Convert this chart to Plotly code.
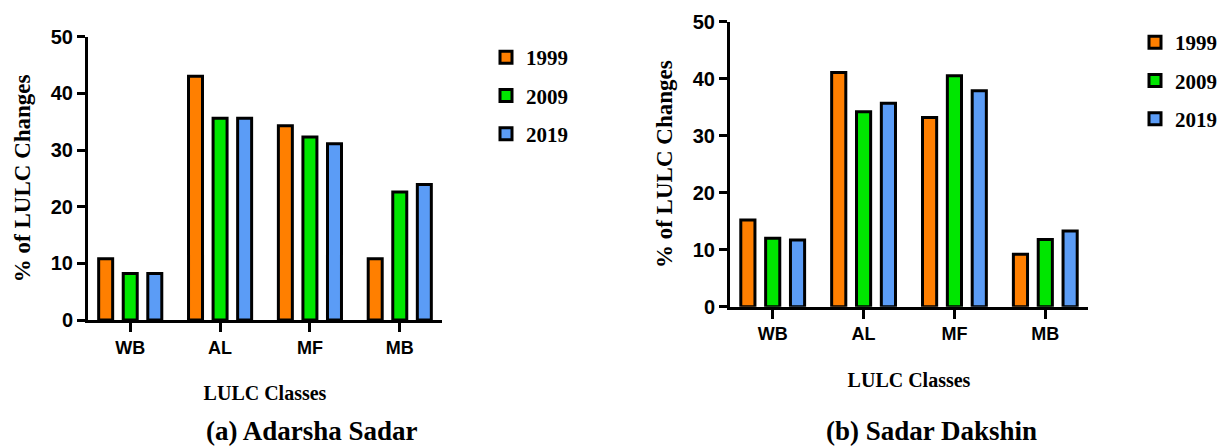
import plotly.graph_objects as go

categories = ["WB", "AL", "MF", "MB"]
years = ["1999", "2009", "2019"]
colors = ["#FF7F00", "#00E600", "#5B9CF6"]

adarsha_1999 = [10.8, 43.0, 34.3, 10.8]
adarsha_2009 = [8.2, 35.6, 32.3, 22.6]
adarsha_2019 = [8.2, 35.6, 31.1, 23.9]

dakshin_1999 = [15.2, 41.1, 33.2, 9.2]
dakshin_2009 = [12.0, 34.2, 40.5, 11.8]
dakshin_2019 = [11.7, 35.7, 37.9, 13.3]

y_ticks = [0, 10, 20, 30, 40, 50]

# page body has an 8px margin; size the figure to fill the remaining window
OFF = 8
W, H = 1226 - OFF, 446 - OFF
def fx(px):
    return (px - OFF) / W
def fy(py):
    return 1 - (py - OFF) / H

fig = go.Figure()

left_series = [adarsha_1999, adarsha_2009, adarsha_2019]
right_series = [dakshin_1999, dakshin_2009, dakshin_2019]

for i, (yr, vals) in enumerate(zip(years, left_series)):
    fig.add_trace(go.Bar(
        x=categories, y=vals, name=yr, xaxis="x", yaxis="y",
        marker=dict(color=colors[i], line=dict(color="black", width=3)),
        legend="legend", legendgroup="l" + yr,
    ))
for i, (yr, vals) in enumerate(zip(years, right_series)):
    fig.add_trace(go.Bar(
        x=categories, y=vals, name=yr, xaxis="x2", yaxis="y2",
        marker=dict(color=colors[i], line=dict(color="black", width=3)),
        legend="legend2", legendgroup="r" + yr,
    ))

tickfont = dict(family="Arial, Liberation Sans", size=20, color="black", weight="bold")
catfont = dict(family="Arial, Liberation Sans", size=18, color="black", weight="bold")
xtitlefont = dict(family="Times New Roman, Liberation Serif", size=20, color="black", weight="bold")
ytitlefont = dict(family="Times New Roman, Liberation Serif", size=23, color="black", weight="bold")
legfont = dict(family="Times New Roman, Liberation Serif", size=21, color="black", weight="bold")
capfont = dict(family="Times New Roman, Liberation Serif", size=27, color="black", weight="bold")

common_x = dict(
    type="category", range=[-0.47, 3.47], showline=True, linecolor="black", linewidth=3,
    ticks="outside", ticklen=9, tickwidth=3, tickcolor="black", tickfont=catfont,
    showgrid=False, zeroline=False, fixedrange=True, automargin=False,
)
common_y = dict(
    range=[0, 50], tickvals=y_ticks, showline=True, linecolor="black", linewidth=3,
    ticks="outside", ticklen=8, tickwidth=3, tickcolor="black", tickfont=tickfont,
    showgrid=False, zeroline=False, fixedrange=True, automargin=False,
)

fig.update_layout(
    width=W, height=H,
    margin=dict(l=0, r=0, t=0, b=0, autoexpand=False),
    paper_bgcolor="white", plot_bgcolor="white",
    barmode="group", bargap=0.18, bargroupgap=0.43,
    xaxis=dict(domain=[fx(88), fx(442)], anchor="y",
               title=dict(text="LULC Classes", font=xtitlefont, standoff=30), **common_x),
    yaxis=dict(domain=[fy(320), fy(36.7)], anchor="x",
               title=dict(text="% of LULC Changes", font=ytitlefont, standoff=14), **common_y),
    xaxis2=dict(domain=[fx(730), fx(1088)], anchor="y2",
                title=dict(text="LULC Classes", font=xtitlefont, standoff=30), **common_x),
    yaxis2=dict(domain=[fy(306.7), fy(21.7)], anchor="x2",
                title=dict(text="% of LULC Changes", font=ytitlefont, standoff=14), **common_y),
    legend=dict(x=fx(486), y=fy(37), xanchor="left", yanchor="top",
                font=legfont, tracegroupgap=8, bgcolor="rgba(0,0,0,0)"),
    legend2=dict(x=fx(1135), y=fy(22), xanchor="left", yanchor="top",
                 font=legfont, tracegroupgap=8, bgcolor="rgba(0,0,0,0)"),
    annotations=[
        dict(text="(a) Adarsha Sadar", x=fx(312), y=fy(431), xref="paper", yref="paper",
             showarrow=False, xanchor="center", yanchor="middle", font=capfont),
        dict(text="(b) Sadar Dakshin", x=fx(931), y=fy(431), xref="paper", yref="paper",
             showarrow=False, xanchor="center", yanchor="middle", font=capfont),
    ],
)

fig.write_html("out.html")
